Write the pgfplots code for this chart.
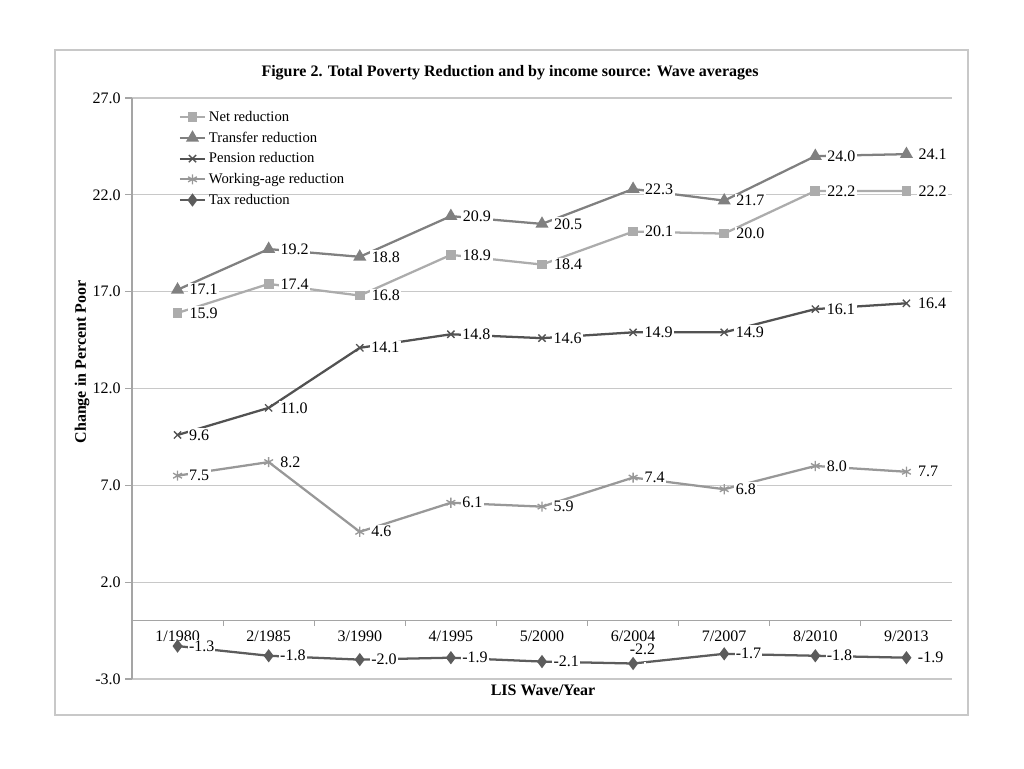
\documentclass[border=0pt]{standalone}
\usepackage{pgfplots}
\pgfplotsset{compat=1.18}
\usepackage{pgfplotstable}
\usepackage{fontspec}
\setmainfont{Liberation Serif}
\usetikzlibrary{plotmarks}

\definecolor{cnet}{RGB}{172,172,172}
\definecolor{ctrans}{RGB}{128,128,128}
\definecolor{cpens}{RGB}{82,82,82}
\definecolor{cwork}{RGB}{152,152,152}
\definecolor{ctax}{RGB}{92,92,92}
\definecolor{cgrid}{RGB}{200,200,200}
\definecolor{caxis}{RGB}{165,165,165}

\pgfplotsset{/pgf/number format/assume math mode=true}

% wave index, value
\pgfplotstableread{
x y
0 15.9
1 17.4
2 16.8
3 18.9
4 18.4
5 20.1
6 20.0
7 22.2
8 22.2
}\netred
\pgfplotstableread{
x y
0 17.1
1 19.2
2 18.8
3 20.9
4 20.5
5 22.3
6 21.7
7 24.0
8 24.1
}\transred
\pgfplotstableread{
x y
0 9.6
1 11.0
2 14.1
3 14.8
4 14.6
5 14.9
6 14.9
7 16.1
8 16.4
}\pensred
\pgfplotstableread{
x y
0 7.5
1 8.2
2 4.6
3 6.1
4 5.9
5 7.4
6 6.8
7 8.0
8 7.7
}\workred
% label column: the 6/2004 label is set above its point separately
\pgfplotstableread{
x y lab
0 -1.3 -1.3
1 -1.8 -1.8
2 -2.0 -2.0
3 -1.9 -1.9
4 -2.1 -2.1
5 -2.2 {}
6 -1.7 -1.7
7 -1.8 -1.8
8 -1.9 -1.9
}\taxred

\begin{document}
\begin{tikzpicture}
\path[use as bounding box] (-99pt,-66.75pt) rectangle (669pt,509.25pt);
\draw[color=cgrid, line width=0.8pt] (-57.75pt,-27pt) rectangle (627pt,471.75pt);

\begin{axis}[
    scale only axis,
    width=615pt,
    height=435.75pt,
    xmin=-0.5, xmax=8.5,
    ymin=-3, ymax=27,
    axis x line*=middle,
    axis y line*=left,
    axis line style={color=caxis, line width=0.8pt},
    xtick={0,...,8},
    xticklabels={1/1980,2/1985,3/1990,4/1995,5/2000,6/2004,7/2007,8/2010,9/2013},
    minor xtick={0.5,1.5,...,7.5},
    x tick style={draw=none},
    minor x tick style={draw=caxis, line width=0.8pt},
    minor tick length=4pt,
    ytick={-3,2,...,27},
    y tick style={color=caxis, line width=0.8pt},
    major tick length=5pt,
    tick align=outside,
    ymajorgrids,
    grid style={color=cgrid, line width=0.8pt},
    yticklabel style={/pgf/number format/.cd, fixed, fixed zerofill, precision=1},
    tick label style={font=\fontsize{12}{14}\selectfont, text=black},
    xticklabel style={yshift=1pt},
    clip=false,
    legend style={draw=none, fill=none, at={(0.055,0.985)}, anchor=north west,
        font=\fontsize{11}{13}\selectfont, row sep=2.4pt, inner sep=1pt},
    legend cell align=left,
    legend image code/.code={
        \draw[mark repeat=2, mark phase=2] plot coordinates {(0pt,0pt) (9.5pt,0pt) (19pt,0pt)};
    },
    nodes near coords={\pgfmathprintnumber[fixed, fixed zerofill, precision=1]{\pgfplotspointmeta}},
    every node near coord/.append style={anchor=west, xshift=7pt, fill=white, inner sep=1.2pt,
        font=\fontsize{12}{14}\selectfont, text=black},
]

\addplot[color=cnet, line width=1.7pt, mark=square*, mark size=2.8pt] table[x=x, y=y] {\netred};
\addlegendentry{Net reduction}

\addplot[color=ctrans, line width=1.7pt, mark=triangle*, mark size=4pt] table[x=x, y=y] {\transred};
\addlegendentry{Transfer reduction}

\addplot[color=cpens, line width=1.7pt, mark=x, mark size=3.8pt, mark options={line width=1pt}] table[x=x, y=y] {\pensred};
\addlegendentry{Pension reduction}

\addplot[color=cwork, line width=1.7pt, mark=asterisk, mark size=3.8pt, mark options={line width=1pt}] table[x=x, y=y] {\workred};
\addlegendentry{Working-age reduction}

\addplot[color=ctax, line width=1.7pt, mark=diamond*, mark size=3.6pt,
    point meta=explicit symbolic,
    nodes near coords={\pgfplotspointmeta},
    every node near coord/.append style={inner sep=0.8pt}] table[x=x, y=y, meta=lab] {\taxred};
\addlegendentry{Tax reduction}

% label of the 6/2004 tax value, above its point
\addplot[draw=none, mark=none, forget plot,
    every node near coord/.append style={anchor=south, xshift=0pt, yshift=5pt, fill=none}]
    coordinates {(5,-2.2)};

\end{axis}

\node[font=\bfseries\fontsize{12}{14}\selectfont] at (283.5pt,454.5pt) {Figure 2. Total Poverty Reduction and by income source: Wave averages};
\node[font=\bfseries\fontsize{12}{14}\selectfont, rotate=90] at (-37.5pt,237.75pt) {Change in Percent Poor};
\node[font=\bfseries\fontsize{12}{14}\selectfont] at (308.25pt,-8.25pt) {LIS Wave/Year};
\end{tikzpicture}
\end{document}
